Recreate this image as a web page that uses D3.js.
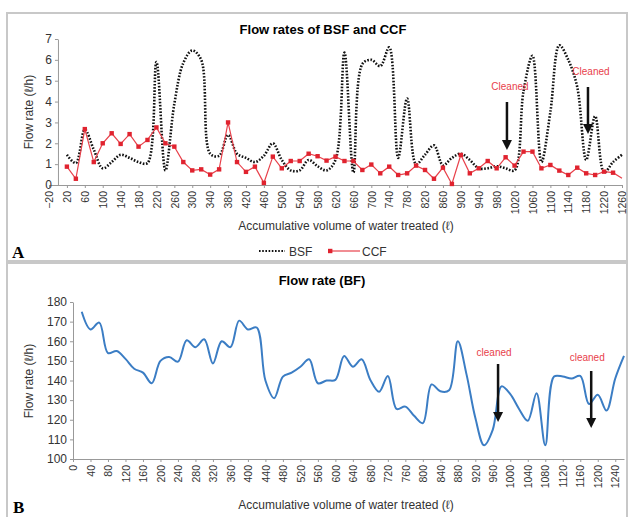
<!DOCTYPE html>
<html>
<head>
<meta charset="utf-8">
<script src="https://cdn.jsdelivr.net/npm/d3@7"></script>
<style>
  body { margin: 0; background: #fff; }
  svg { font-family: "Liberation Sans", Arial, sans-serif; }
  .axis path, .axis line { stroke: #999; }
  .axis text { fill: #333; font-size: 10.5px; }
</style>
</head>
<body>
<script>
// panel A: volumes every 20 l
const volA = d3.range(20, 1261, 20)
const bsf = [1.45, 1.05, 2.65, 1.7, 0.8, 1.1, 1.45, 1.3, 1.1, 1.05,
  5.9, 0.7, 3.9, 5.85, 6.45, 6.0, 1.5, 1.4, 2.4, 1.5,
  1.3, 1.1, 1.4, 2.0, 1.2, 0.7, 0.7, 1.2, 0.9, 0.7,
  1.2, 6.35, 0.6, 5.8, 6.0, 5.7, 6.6, 1.3, 4.15, 1.0,
  1.45, 1.9, 0.95, 1.3, 1.5, 1.2, 0.8, 0.8, 0.9, 0.8,
  0.7, 4.5, 6.2, 1.1, 3.5, 6.7, 6.0, 4.7, 1.2, 3.3,
  0.6, 1.1, 1.45]
const ccf = [0.88, 0.3, 2.68, 1.1, 2.0, 2.48, 1.97, 2.44, 1.84, 2.16,
  2.76, 2.0, 1.84, 1.1, 0.7, 0.75, 0.5, 0.75, 3.0, 1.1,
  0.63, 0.88, 0.1, 1.36, 0.8, 1.15, 1.15, 1.5, 1.38, 1.17,
  1.36, 1.15, 1.15, 0.72, 0.98, 0.56, 0.88, 0.48, 0.56, 0.93,
  0.72, 0.3, 0.83, 0.05, 1.44, 0.56, 0.8, 1.15, 0.8, 1.33,
  0.93, 1.6, 1.6, 0.8, 0.96, 0.69, 0.48, 0.83, 0.56, 0.48,
  0.64, 0.59, 0.32]
const ticksA = d3.range(-20, 1261, 40)
const cleanedA = [1003, 1184]

// panel B
const volB = d3.range(20, 1261, 20)
const bf = [175, 166, 169.5, 154, 155, 151, 146, 144, 138.6, 150,
  152, 149.6, 160.5, 157, 161, 148.7, 160, 157, 170.5, 166,
  167, 140, 131, 142, 144, 147, 150.8, 138.6, 140, 140.3,
  152.5, 147, 150.8, 140.3, 134.3, 142.3, 125.5, 126.7, 122, 118.3,
  138, 134.5, 135, 160, 143, 121, 107, 115, 137, 133,
  125.5, 119.5, 133.5, 107, 142, 142, 141, 142.3, 128, 132.7,
  124.7, 141, 152.5]
const ticksB = d3.range(0, 1241, 40)
const cleanedB = [972, 1185]

const svg = d3.select("body").append("svg")
  .attr("width", 628).attr("height", 517)

// panel frames
svg.append("rect").attr("x", 7).attr("y", 13).attr("width", 620).attr("height", 248)
  .attr("fill", "none").attr("stroke", "#c8c8c8").attr("stroke-width", 2)
svg.append("rect").attr("x", 7).attr("y", 263).attr("width", 620).attr("height", 260)
  .attr("fill", "none").attr("stroke", "#c8c8c8").attr("stroke-width", 2)

const red = "#e8414b"

const rotLabels = sel => sel.selectAll("text")
  .attr("transform", "rotate(-90)")
  .attr("text-anchor", "end").attr("x", -6).attr("y", 0).attr("dy", "0.35em")

// ---------- A ----------
const xA = d3.scaleLinear().domain([-20, 1260]).range([49, 622])
const yA = d3.scaleLinear().domain([0, 7]).range([185, 39])

svg.append("g").attr("class", "axis")
  .attr("transform", `translate(0,${yA(0)})`)
  .call(d3.axisBottom(xA).tickValues(ticksA).tickFormat(d3.format("d")).tickSize(3).tickSizeOuter(0))
  .call(rotLabels)

svg.append("g").attr("class", "axis")
  .attr("transform", `translate(${xA(0)},0)`)
  .call(d3.axisLeft(yA).ticks(7).tickSize(3).tickSizeOuter(0))
  .selectAll("text").style("font-size", "12px")

const lineA = d3.line().curve(d3.curveCatmullRom.alpha(0.5))
svg.append("path")
  .attr("d", lineA(volA.map((v, i) => [xA(v), yA(bsf[i])])))
  .attr("fill", "none").attr("stroke", "#111").attr("stroke-width", 2.6)
  .attr("stroke-dasharray", "1.6,1.6")

svg.append("path")
  .attr("d", d3.line()(volA.map((v, i) => [xA(v), yA(ccf[i])])))
  .attr("fill", "none").attr("stroke", red).attr("stroke-width", 1.2)
svg.append("g").selectAll("rect")
  .data(volA.slice(0, -1))
  .join("rect")
  .attr("x", (d, i) => xA(d) - 2.2).attr("y", (d, i) => yA(ccf[i]) - 2.2)
  .attr("width", 4.4).attr("height", 4.4).attr("fill", "#e0232f")

svg.append("text").attr("x", 323).attr("y", 34).attr("text-anchor", "middle")
  .style("font-size", "13px").style("font-weight", "bold").text("Flow rates of BSF and CCF")
svg.append("text").attr("transform", `translate(33,112) rotate(-90)`).attr("text-anchor", "middle")
  .style("font-size", "12px").attr("fill", "#333").text("Flow rate (ℓ/h)")
svg.append("text").attr("x", 346).attr("y", 230).attr("text-anchor", "middle")
  .style("font-size", "12px").attr("fill", "#333").text("Accumulative volume of water treated (ℓ)")

// legend
const lg = svg.append("g").attr("transform", "translate(0,251)")
lg.append("line").attr("x1", 259).attr("x2", 285).attr("stroke", "#111")
  .attr("stroke-width", 2.2).attr("stroke-dasharray", "1.6,1.6")
lg.append("text").attr("x", 289).attr("y", 4.5).style("font-size", "12px").attr("fill", "#333").text("BSF")
lg.append("line").attr("x1", 329).attr("x2", 360).attr("stroke", red).attr("stroke-width", 1.2)
lg.append("rect").attr("x", 328).attr("y", -2.2).attr("width", 4.4).attr("height", 4.4).attr("fill", "#e0232f")
lg.append("text").attr("x", 362).attr("y", 4.5).style("font-size", "12px").attr("fill", "#333").text("CCF")

svg.append("text").attr("x", 12).attr("y", 258).style("font-family", "'Liberation Serif', serif")
  .style("font-size", "17px").style("font-weight", "bold").text("A")

const arrowsA = [[1003, 90, 102, 150], [1184, 75, 87, 134]]
cleanedA.forEach((v, i) => {
  const a = arrowsA[i]
  svg.append("text").attr("x", xA(v) + 3).attr("y", a[1]).attr("text-anchor", "middle")
    .style("font-size", "10px").attr("fill", red).text("Cleaned")
  svg.append("line").attr("x1", xA(v)).attr("x2", xA(v)).attr("y1", a[2]).attr("y2", a[3] - 8)
    .attr("stroke", "#111").attr("stroke-width", 2.5)
  svg.append("path").attr("d", `M${xA(v) - 5},${a[3] - 10} L${xA(v) + 5},${a[3] - 10} L${xA(v)},${a[3]} Z`)
    .attr("fill", "#111")
})

// ---------- B ----------
const xB = d3.scaleLinear().domain([0, 1260]).range([73, 624])
const yB = d3.scaleLinear().domain([100, 180]).range([459, 302])

svg.append("g").attr("class", "axis")
  .attr("transform", `translate(0,${yB(100)})`)
  .call(d3.axisBottom(xB).tickValues(ticksB).tickFormat(d3.format("d")).tickSize(3).tickSizeOuter(0))
  .call(rotLabels)

svg.append("g").attr("class", "axis")
  .attr("transform", `translate(${xB(0)},0)`)
  .call(d3.axisLeft(yB).ticks(8).tickSize(3).tickSizeOuter(0))
  .selectAll("text").style("font-size", "12px")

svg.append("path")
  .attr("d", lineA(volB.map((v, i) => [xB(v), yB(bf[i])])))
  .attr("fill", "none").attr("stroke", "#3b7dc4").attr("stroke-width", 2)

svg.append("text").attr("x", 322).attr("y", 285).attr("text-anchor", "middle")
  .style("font-size", "13px").style("font-weight", "bold").text("Flow rate (BF)")
svg.append("text").attr("transform", `translate(33,381) rotate(-90)`).attr("text-anchor", "middle")
  .style("font-size", "12px").attr("fill", "#333").text("Flow rate (ℓ/h)")
svg.append("text").attr("x", 346).attr("y", 509).attr("text-anchor", "middle")
  .style("font-size", "12px").attr("fill", "#333").text("Accumulative volume of water treated (ℓ)")

svg.append("text").attr("x", 13).attr("y", 513).style("font-family", "'Liberation Serif', serif")
  .style("font-size", "17px").style("font-weight", "bold").text("B")

const arrowsB = [[356, 364, 422], [361, 371, 428]]
cleanedB.forEach((v, i) => {
  const a = arrowsB[i]
  svg.append("text").attr("x", xB(v) - 4).attr("y", a[0]).attr("text-anchor", "middle")
    .style("font-size", "10px").attr("fill", red).text("cleaned")
  svg.append("line").attr("x1", xB(v)).attr("x2", xB(v)).attr("y1", a[1]).attr("y2", a[2] - 8)
    .attr("stroke", "#111").attr("stroke-width", 2.5)
  svg.append("path").attr("d", `M${xB(v) - 5},${a[2] - 10} L${xB(v) + 5},${a[2] - 10} L${xB(v)},${a[2]} Z`)
    .attr("fill", "#111")
})
</script>
</body>
</html>
